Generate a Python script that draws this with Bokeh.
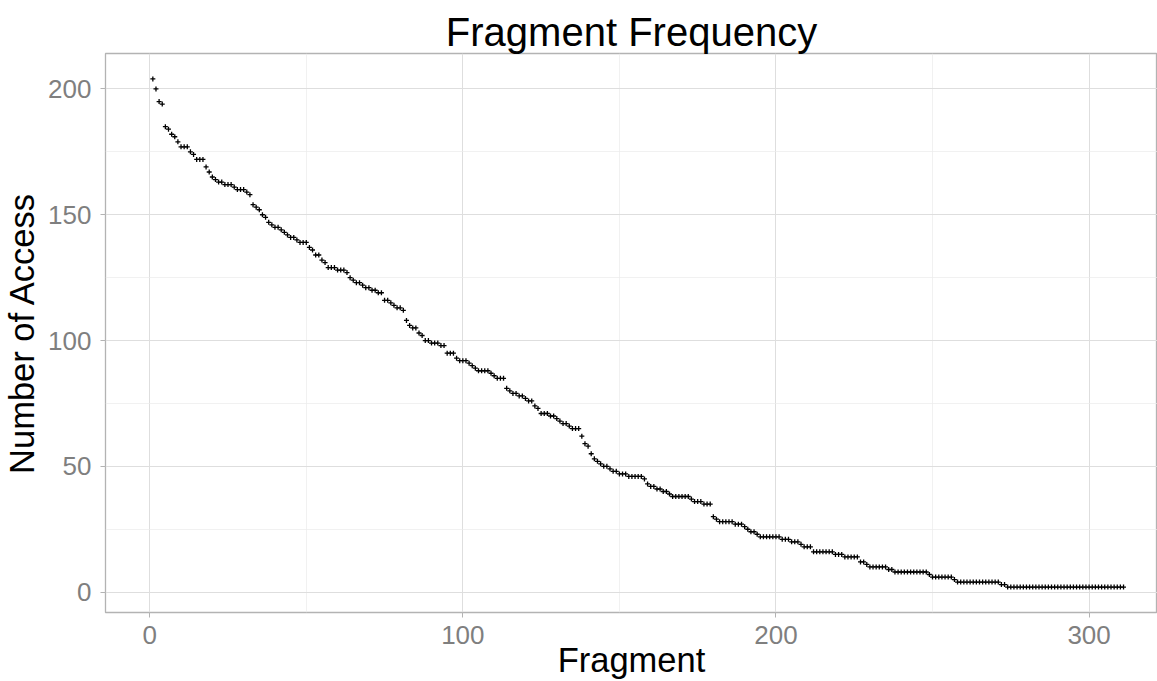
from bokeh.plotting import figure
from bokeh.models import Range1d, FixedTicker
from bokeh.embed import file_html
from bokeh.resources import INLINE

# Number of accesses per fragment (fragments 1..311)
access = [
    204, 200, 195, 194, 185, 184, 182, 181, 179, 177,
    177, 177, 175, 174, 172, 172, 172, 169, 167, 165,
    164, 163, 163, 162, 162, 162, 161, 160, 160, 160,
    159, 158, 154, 153, 152, 150, 149, 147, 146, 145,
    145, 144, 143, 142, 141, 141, 140, 139, 139, 139,
    137, 136, 134, 134, 132, 131, 129, 129, 129, 128,
    128, 128, 127, 125, 124, 123, 123, 122, 121, 121,
    120, 120, 119, 119, 116, 116, 115, 114, 113, 113,
    112, 108, 106, 105, 105, 103, 102, 100, 100, 99,
    99, 99, 98, 98, 95, 95, 95, 93, 92, 92,
    92, 91, 90, 89, 88, 88, 88, 88, 87, 86,
    85, 85, 85, 81, 80, 79, 79, 78, 78, 77,
    76, 76, 74, 73, 71, 71, 71, 70, 70, 69,
    68, 67, 67, 66, 65, 65, 65, 62, 59, 58,
    55, 53, 52, 51, 50, 50, 49, 48, 48, 47,
    47, 47, 46, 46, 46, 46, 46, 45, 43, 42,
    42, 41, 41, 40, 40, 39, 38, 38, 38, 38,
    38, 38, 37, 36, 36, 36, 35, 35, 35, 30,
    29, 28, 28, 28, 28, 28, 27, 27, 27, 26,
    25, 24, 24, 23, 22, 22, 22, 22, 22, 22,
    22, 21, 21, 21, 20, 20, 20, 19, 18, 18,
    18, 16, 16, 16, 16, 16, 16, 16, 15, 15,
    15, 14, 14, 14, 14, 14, 12, 12, 11, 10,
    10, 10, 10, 10, 10, 9, 9, 8, 8, 8,
    8, 8, 8, 8, 8, 8, 8, 8, 7, 6,
    6, 6, 6, 6, 6, 6, 5, 4, 4, 4,
    4, 4, 4, 4, 4, 4, 4, 4, 4, 4,
    4, 3, 3, 2, 2, 2, 2, 2, 2, 2,
    2, 2, 2, 2, 2, 2, 2, 2, 2, 2,
    2, 2, 2, 2, 2, 2, 2, 2, 2, 2,
    2, 2, 2, 2, 2, 2, 2, 2, 2, 2,
    2,
]
fragment = list(range(1, len(access) + 1))

x_ticks = [0, 100, 200, 300]
x_minor = [50, 150, 250]
y_ticks = [0, 50, 100, 150, 200]
y_minor = [25, 75, 125, 175]

title_text = "Fragment Frequency"
x_title = "Fragment"
y_title = "Number of Access"

FONT = "Liberation Sans"

p = figure(
    width=1157, height=681,
    output_backend="svg", toolbar_location=None,
    x_range=Range1d(-14.12, 321.85), y_range=Range1d(-8.1, 214.1),
    min_border_left=103, min_border_right=0,
    min_border_top=53, min_border_bottom=69,
)
p.background_fill_color = "white"
p.border_fill_color = "white"
p.outline_line_color = "#B3B3B3"
p.outline_line_width = 1.3

p.title.text = title_text
p.title.text_font = FONT
p.title.text_font_size = "40px"
p.title.text_font_style = "normal"
p.title.text_color = "black"
p.title.align = "center"
p.title.offset = 4
p.title.standoff = 0

# tickers and grids
p.xaxis.ticker = FixedTicker(ticks=x_ticks, minor_ticks=x_minor)
p.yaxis.ticker = FixedTicker(ticks=y_ticks, minor_ticks=y_minor)
p.xgrid.ticker = FixedTicker(ticks=x_ticks, minor_ticks=x_minor)
p.ygrid.ticker = FixedTicker(ticks=y_ticks, minor_ticks=y_minor)
for g in (p.xgrid, p.ygrid):
    g.grid_line_color = "#DEDEDE"
    g.grid_line_width = 1
    g.minor_grid_line_color = "#EBEBEB"
    g.minor_grid_line_width = 0.7

for ax in (p.xaxis, p.yaxis):
    ax.axis_line_color = None
    ax.major_tick_line_color = "#B3B3B3"
    ax.major_tick_line_width = 1
    ax.major_tick_out = 5
    ax.major_tick_in = 0
    ax.minor_tick_line_color = None
    ax.major_label_text_font = FONT
    ax.major_label_text_font_size = "26px"
    ax.major_label_text_color = "#7F7F7F"
    ax.axis_label_text_font = FONT
    ax.axis_label_text_font_size = "34.5px"
    ax.axis_label_text_font_style = "normal"
    ax.axis_label_text_color = "black"

p.xaxis.major_label_standoff = 8
p.yaxis.major_label_standoff = 9
p.xaxis.axis_label = x_title
p.yaxis.axis_label = y_title
p.xaxis.axis_label_text_line_height = 0.9
p.xaxis.axis_label_standoff = -6
p.yaxis.axis_label_standoff = 4

p.scatter(fragment, access, marker="cross", size=5,
          line_color="black", line_width=1.3)

open("out.html", "w").write(file_html(p, INLINE))
